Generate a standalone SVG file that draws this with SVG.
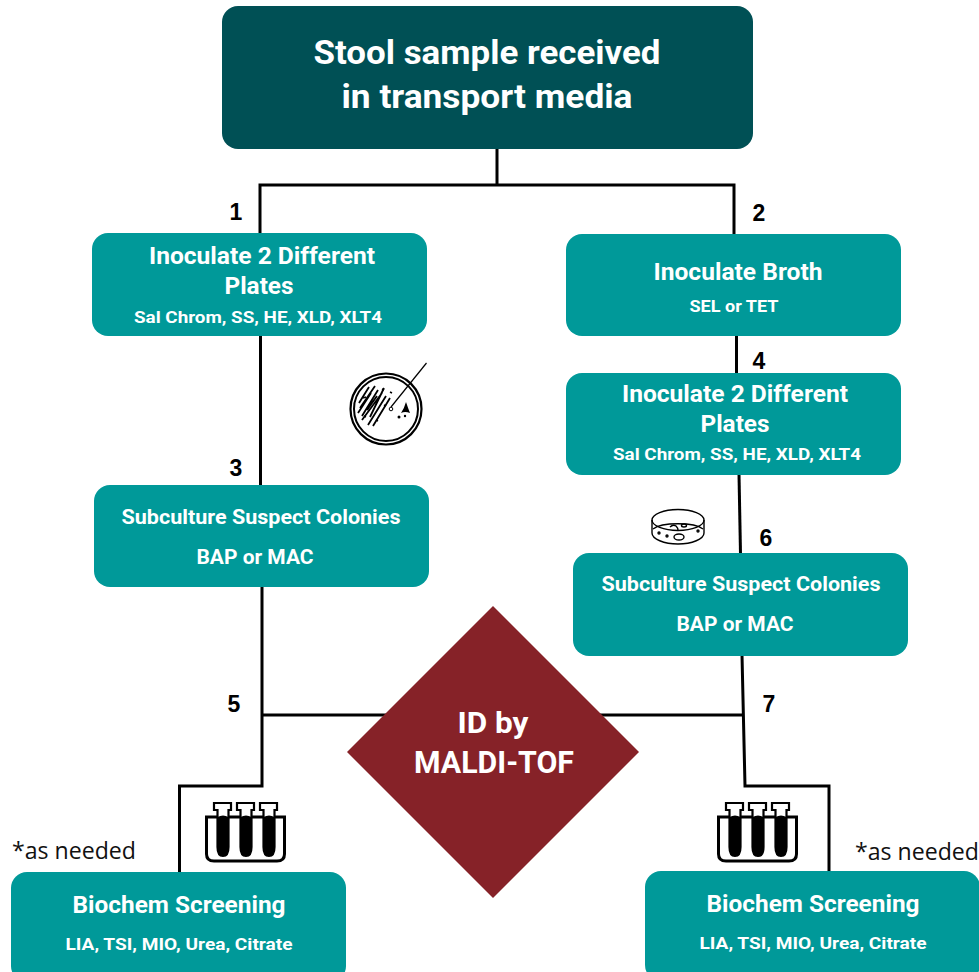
<svg xmlns="http://www.w3.org/2000/svg" width="979" height="972" viewBox="0 0 979 972">
<style>
text{font-family:"Roboto","Liberation Sans",sans-serif;text-anchor:middle;fill:#fff;font-weight:700}
.box{fill:#009999}
.t{font-size:24px}
.s{font-size:17px}
.n{font-family:"Liberation Sans",sans-serif;font-size:23px;fill:#000;font-weight:700}
.note{font-family:"Open Sans",sans-serif;font-size:23px;fill:#111;font-weight:400}
.c{fill:none;stroke:#000;stroke-width:3}
.i{fill:none;stroke:#000;stroke-width:2}
</style>
<defs>
<g id="tubes">
<path d="M1.500 27H79.500V64Q79.500 71 72 71H9Q1.500 71 1.500 64Z" fill="#fff" stroke="#000" stroke-width="3"/>
<g id="tube"><path d="M9 13H26V20H23.500V57Q23.500 66 18 66Q12.500 66 12.500 57V20H9Z" fill="#fff" stroke="#000" stroke-width="2.200"/><path d="M12.500 27Q18 24 23.500 27V57Q23.500 66 18 66Q12.500 66 12.500 57Z" fill="#000"/></g>
<use href="#tube" x="23"/><use href="#tube" x="46"/>
</g>
</defs>
<g id="connectors">
<path class="c" d="M497 148V185H260V234M497 185H734V234"/>
<path class="c" d="M260.500 335V486"/>
<path class="c" d="M736.500 335V373"/>
<path class="c" d="M739 474L740.500 554"/>
<path class="c" d="M262 586V786H179.500V873"/>
<path class="c" d="M262 715H390"/>
<path class="c" d="M742 655L745 786H829V873"/>
<path class="c" d="M600 715H744"/>
</g>
<g id="start"><rect x="222" y="6" width="531" height="143" rx="16" fill="#005055"/>
<text x="487" y="64" font-size="34" textLength="347" lengthAdjust="spacingAndGlyphs">Stool sample received</text>
<text x="487" y="108" font-size="34" textLength="291" lengthAdjust="spacingAndGlyphs">in transport media</text></g>
<g id="n1"><rect class="box" x="92" y="233" width="335" height="103" rx="16"/>
<text class="t" x="262" y="264" textLength="226" lengthAdjust="spacingAndGlyphs">Inoculate 2 Different</text>
<text class="t" x="259" y="294" textLength="69" lengthAdjust="spacingAndGlyphs">Plates</text>
<text class="s" x="258" y="323" textLength="248" lengthAdjust="spacingAndGlyphs">Sal Chrom, SS, HE, XLD, XLT4</text></g>
<g id="n2"><rect class="box" x="566" y="234" width="335" height="102" rx="16"/>
<text class="t" x="738" y="280" textLength="169" lengthAdjust="spacingAndGlyphs">Inoculate Broth</text>
<text class="s" x="734" y="312" textLength="89" lengthAdjust="spacingAndGlyphs">SEL or TET</text></g>
<g id="n3"><rect class="box" x="94" y="485" width="335" height="102" rx="16"/>
<text x="261" y="524" font-size="21" textLength="279" lengthAdjust="spacingAndGlyphs">Subculture Suspect Colonies</text>
<text x="255" y="564" font-size="20" textLength="117" lengthAdjust="spacingAndGlyphs">BAP or MAC</text></g>
<g id="n4"><rect class="box" x="566" y="373" width="335" height="102" rx="16"/>
<text class="t" x="735" y="402" textLength="226" lengthAdjust="spacingAndGlyphs">Inoculate 2 Different</text>
<text class="t" x="735" y="432" textLength="69" lengthAdjust="spacingAndGlyphs">Plates</text>
<text class="s" x="737" y="460" textLength="248" lengthAdjust="spacingAndGlyphs">Sal Chrom, SS, HE, XLD, XLT4</text></g>
<g id="n6"><rect class="box" x="573" y="553" width="335" height="103" rx="16"/>
<text x="741" y="591" font-size="21" textLength="279" lengthAdjust="spacingAndGlyphs">Subculture Suspect Colonies</text>
<text x="735" y="631" font-size="20" textLength="117" lengthAdjust="spacingAndGlyphs">BAP or MAC</text></g>
<g id="maldi"><polygon points="493,606 639,752 493,898 347,752" fill="#862228"/>
<text x="493" y="733" font-size="30" textLength="71" lengthAdjust="spacingAndGlyphs">ID by</text>
<text x="494" y="773" font-size="31" textLength="160" lengthAdjust="spacingAndGlyphs">MALDI-TOF</text></g>
<g id="b1"><rect class="box" x="11" y="872" width="335" height="110" rx="16"/>
<text class="t" x="179" y="913" textLength="213" lengthAdjust="spacingAndGlyphs">Biochem Screening</text>
<text class="s" x="179" y="950" textLength="227" lengthAdjust="spacingAndGlyphs">LIA, TSI, MIO, Urea, Citrate</text></g>
<g id="b2"><rect class="box" x="645" y="871" width="335" height="110" rx="16"/>
<text class="t" x="813" y="912" textLength="213" lengthAdjust="spacingAndGlyphs">Biochem Screening</text>
<text class="s" x="813" y="949" textLength="227" lengthAdjust="spacingAndGlyphs">LIA, TSI, MIO, Urea, Citrate</text></g>
<g id="labels">
<text class="n" x="236" y="220">1</text><text class="n" x="759" y="221">2</text>
<text class="n" x="236" y="476">3</text><text class="n" x="759" y="369">4</text>
<text class="n" x="234" y="712">5</text><text class="n" x="766" y="546">6</text>
<text class="n" x="769" y="712">7</text>
<text class="note" x="74" y="859" textLength="124" lengthAdjust="spacingAndGlyphs">*as needed</text>
<text class="note" x="917" y="860" textLength="124" lengthAdjust="spacingAndGlyphs">*as needed</text>
</g>
<g id="plate-icon">
<circle cx="386" cy="409" r="35.500" fill="#fff" stroke="#000" stroke-width="2.200"/>
<circle cx="386" cy="409" r="32" class="i"/>
<path d="M426.500 363L391 407" stroke="#000" fill="none" stroke-width="1.200"/>
<circle cx="391" cy="409" r="1.800" fill="#fff" stroke="#000"/>
<path d="M359 403L369 387M360 408L375 386M358 413L371 393M362 416L378 390M367 410L377 396M362 420L382 393M370 417L384 388M368 425L386 396M373 426L390 398" stroke="#000" stroke-width="1.800" fill="none"/>
<path d="M363 398l3-1M376 420l2 1M384 405l2 1M382 389l2 1M390 392l2 1M364 416l2 1" stroke="#000" stroke-width="1.500" fill="none"/>
<path d="M401 413Q404 409 406 402Q408 408 410 413Q405 411 401 413Z" fill="#000"/><circle cx="399" cy="417" r="1.500"/><circle cx="405" cy="416" r="1.200"/>
</g>
<g id="dish-icon" fill="none" stroke="#000" stroke-width="1.400">
<ellipse cx="678" cy="520" rx="26" ry="10.500"/>
<path d="M652 520V533C652 539 664 544 678 544C692 544 704 539 704 533V520"/>
<path d="M653 529C662 522 694 522 703 529"/>
<ellipse cx="679" cy="537" rx="5" ry="3"/><ellipse cx="684" cy="525.500" rx="2.500" ry="1.500"/><path d="M670 527Q673 524 676 526Q678 528 678 530"/><circle cx="667" cy="536" r="1"/><circle cx="659" cy="533" r="1"/><circle cx="698" cy="531" r="1"/>
</g>
<use id="tubes-left" href="#tubes" x="205" y="790"/>
<use id="tubes-right" href="#tubes" x="717" y="790"/>
</svg>
